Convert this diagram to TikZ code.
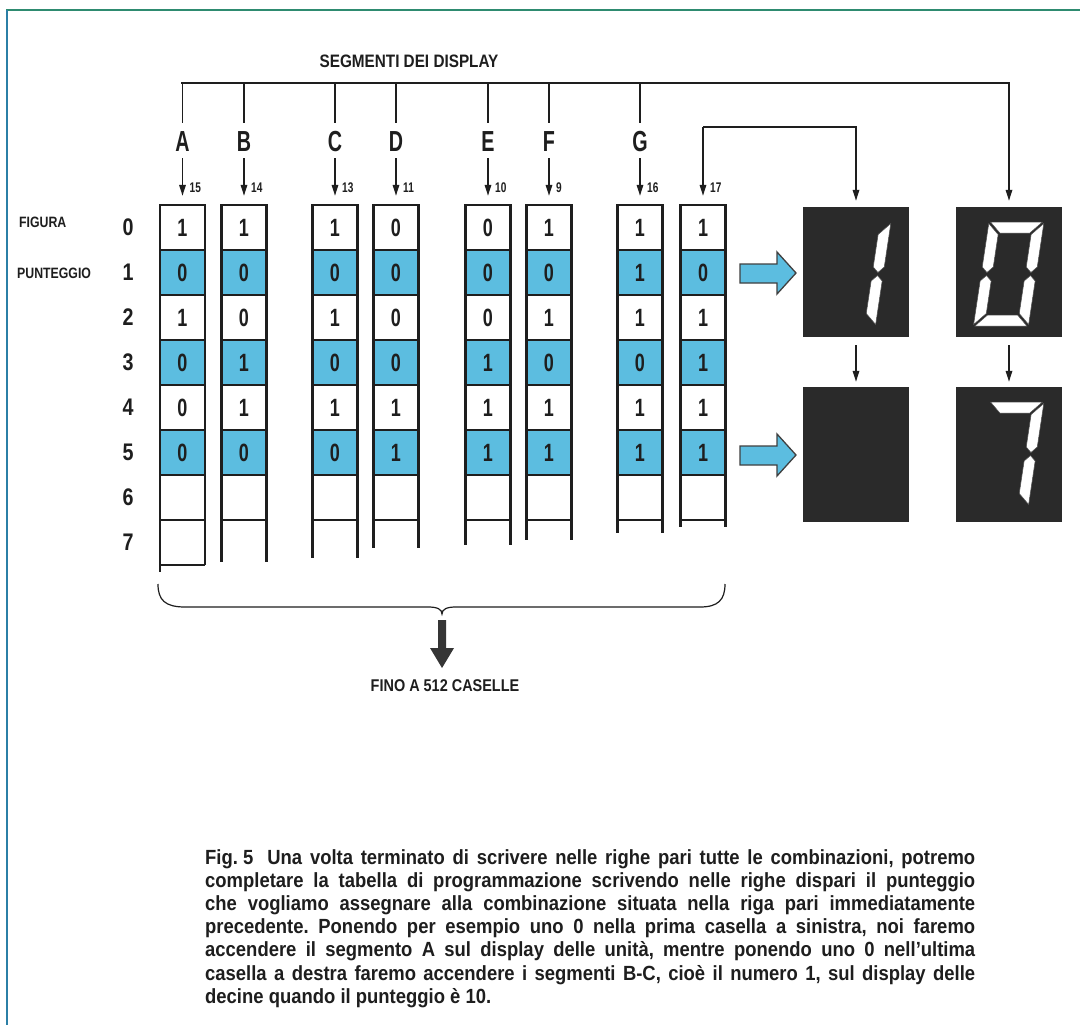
\documentclass[tikz,border=0pt]{standalone}
\usepackage{fontspec}
\setmainfont{Liberation Sans}
\newfontfamily\fcell[FakeStretch=0.72]{Liberation Sans}
\newfontfamily\flet[FakeStretch=0.68]{Liberation Sans}
\newfontfamily\flab[FakeStretch=0.82]{Liberation Sans}
\newfontfamily\fttl[FakeStretch=0.85]{Liberation Sans}
\newfontfamily\fcap[FakeStretch=0.9]{Liberation Sans}
\usetikzlibrary{arrows.meta}
\definecolor{cellblue}{HTML}{5CBDE0}
\definecolor{dispbg}{HTML}{2A2A2A}
\definecolor{framegreen}{HTML}{2E8B70}
\definecolor{frameblue}{HTML}{2B7FA6}
\definecolor{ink}{HTML}{1E1E1E}
\newcommand\sgA{\filldraw[seg] (1.5,0) -- (53.5,0) -- (42.5,11) -- (12.5,11) -- cycle;}
\newcommand\sgB{\filldraw[seg] (55,1.5) -- (55,45) -- (49.5,50.5) -- (44,45) -- (44,12.5) -- cycle;}
\newcommand\sgC{\filldraw[seg] (55,102.5) -- (55,59) -- (49.5,53.5) -- (44,59) -- (44,91.5) -- cycle;}
\newcommand\sgD{\filldraw[seg] (1.5,104) -- (53.5,104) -- (42.5,93) -- (12.5,93) -- cycle;}
\newcommand\sgE{\filldraw[seg] (0,102.5) -- (0,59) -- (5.5,53.5) -- (11,59) -- (11,91.5) -- cycle;}
\newcommand\sgF{\filldraw[seg] (0,1.5) -- (0,45) -- (5.5,50.5) -- (11,45) -- (11,12.5) -- cycle;}
\begin{document}
\frenchspacing
\begin{tikzpicture}[x=1pt,y=-1pt,
  cell/.style={draw=ink, line width=2.4pt, minimum width=45pt, minimum height=45pt, inner sep=0pt,
    font=\fcell\bfseries\fontsize{25}{25}\selectfont, text=ink},
  colline/.style={draw=ink, line width=2.4pt},
  letter/.style={inner sep=0pt, font=\flet\bfseries\fontsize{29}{29}\selectfont, text=ink},
  numf/.style={inner sep=0pt, font=\fcell\bfseries\fontsize{14}{14}\selectfont, text=ink},
  rownum/.style={inner sep=0pt, font=\flab\bfseries\fontsize{24}{24}\selectfont, text=ink},
  rowlab/.style={inner sep=0pt, font=\flab\bfseries\fontsize{15}{15}\selectfont, text=ink},
  title/.style={inner sep=0pt, font=\fttl\bfseries\fontsize{18}{18}\selectfont, text=ink},
  fino/.style={inner sep=0pt, font=\fttl\bfseries\fontsize{17}{17}\selectfont, text=ink},
  capline/.style={inner sep=0pt, font=\fcap\bfseries\fontsize{20.5}{23}\selectfont, text=ink},
  vline/.style={draw=ink, line width=1.6pt},
  arr/.style={draw=ink, line width=1.6pt, -{Triangle[width=6.5pt,length=11pt]}},
  disp/.style={fill=dispbg, draw=none, inner sep=0pt, minimum width=106pt},
  seg/.style={fill=white, draw=black!70, line width=0.5pt},
  blockarrow/.style={fill=cellblue, draw=ink!85, line width=1.3pt, line join=miter},
  brace/.style={draw=ink, line width=1.2pt}
]
\useasboundingbox (0,0) rectangle (1080,1025);
\fill[white] (0,0) rectangle (1080,1025);
% frame
\draw[framegreen, line width=2pt] (6,10) -- (1080,10);
\draw[frameblue, line width=2.5pt] (7,10) -- (7,1025);

% title and bus
\node[title] (segtitle) at (409,61) {SEGMENTI DEI DISPLAY};
\coordinate (busl) at (182.5,83);
\coordinate (busr) at (1009,83);
\draw[line width=2.2pt, draw=ink, line cap=rect] (busl) -- (busr);

% cells
\foreach \n/\cx/\num/\bot/\vals in {A/182.5/15/565/{1,0,1,0,0,0}, B/244/14/562/{1,0,0,1,1,0},
    C/335/13/558/{1,0,1,0,1,0}, D/396/11/548/{0,0,0,0,1,1}, E/488/10/545/{0,0,0,1,1,1},
    F/549/9/540/{1,0,1,0,1,1}, G/640/16/533/{1,1,1,0,1,1}, H/703/17/527/{1,0,1,1,1,1}} {
  \draw[colline] (\cx-22.5,518) -- (\cx-22.5,\bot);
  \draw[colline] (\cx+22.5,518) -- (\cx+22.5,\bot);
  \foreach \v [count=\r from 0] in \vals {
    \ifodd\r\relax \def\cf{cellblue}\else\def\cf{white}\fi
    \node[cell, fill=\cf] (c\n\r) at (\cx,227.5+45*\r) {\v};
  }
  \node[cell, fill=white] (c\n6) at (\cx,497.5) {};
  \node[numf, anchor=west] (N\n) at (\cx+7,188) {\num};
}
\draw[colline] (160,565) -- (205,565);
\draw[colline] (160,565) -- (160,572);

% letters and connectors
\foreach \n/\cx in {A/182.5, B/244, C/335, D/396, E/488, F/549, G/640} {
  \node[letter] (L\n) at (\cx,142) {\n};
  \draw[vline, shorten >=9pt] (L\n |- busl) -- (L\n.north);
  \draw[arr, shorten <=6pt, shorten >=8pt] (L\n.south) -- (c\n0.north);
}

% displays
\node[disp, minimum height=130pt] (dT) at (856,272) {};
\node[disp, minimum height=130pt] (dU) at (1009,272) {};
\node[disp, minimum height=135pt] (dT2) at (856,454.5) {};
\node[disp, minimum height=135pt] (dU2) at (1009,454.5) {};

% 17 connector
\coordinate (k17) at (703,127);
\draw[arr, shorten >=8pt] (k17) -- (cH0.north);
\draw[arr, shorten >=6pt] (k17) -- (k17 -| dT.north) -- (dT.north);
\draw[arr, shorten >=6pt] (busr) -- (dU.north);
\draw[arr, shorten <=8pt, shorten >=5pt] (dT.south) -- (dT2.north);
\draw[arr, shorten <=8pt, shorten >=5pt] (dU.south) -- (dU2.north);

% digits
\begin{scope}[shift={(836,222)}, xslant=0.15]
  \sgB \sgC
\end{scope}
\begin{scope}[shift={(989,222)}, xslant=0.15]
  \sgA \sgB \sgC \sgD \sgE \sgF
\end{scope}
\begin{scope}[shift={(989,402)}, xslant=0.15]
  \sgA \sgB \sgC
\end{scope}

% block arrows
\draw[blockarrow] (740,264) -- (777,264) -- (777,252) -- (796,273) -- (777,294) -- (777,283) -- (740,283) -- cycle;
\draw[blockarrow] (740,446) -- (777,446) -- (777,434) -- (796,455) -- (777,476) -- (777,465) -- (740,465) -- cycle;

% row labels
\node[rowlab, anchor=west] (figura) at (19,222) {FIGURA};
\node[rowlab, anchor=west] (punteggio) at (17,273) {PUNTEGGIO};
\foreach \r in {0,...,7} {
  \node[rownum] (R\r) at (128,227+45*\r) {\r};
}

% brace
\draw[brace] (158,584) .. controls (158,600) and (165,607) .. (185,607) -- (428,607)
  .. controls (437,607) and (442,609) .. (442,614)
  .. controls (442,609) and (447,607) .. (456,607) -- (700,607)
  .. controls (718,607) and (725,600) .. (725,584);
\fill[ink!90] (438,620) -- (446,620) -- (446,648) -- (454,648) -- (442,668) -- (430,648) -- (438,648) -- cycle;
\node[fino] (fino) at (445,686) {FINO A 512 CASELLE};

% caption
\node[capline, anchor=base west] (cap1) at (205,864) {\makebox[770pt][s]{\mbox{Fig. 5}\hspace{14pt}Una volta terminato di scrivere nelle righe pari tutte le combinazioni, potremo}};
\node[capline, anchor=base west] (cap2) at (205,887.2) {\makebox[770pt][s]{completare la tabella di programmazione scrivendo nelle righe dispari il punteggio}};
\node[capline, anchor=base west] (cap3) at (205,910.4) {\makebox[770pt][s]{che vogliamo assegnare alla combinazione situata nella riga pari immediatamente}};
\node[capline, anchor=base west] (cap4) at (205,933.6) {\makebox[770pt][s]{precedente. Ponendo per esempio uno 0 nella prima casella a sinistra, noi faremo}};
\node[capline, anchor=base west] (cap5) at (205,956.8) {\makebox[770pt][s]{accendere il segmento A sul display delle unità, mentre ponendo uno 0 nell’ultima}};
\node[capline, anchor=base west] (cap6) at (205,980) {\makebox[770pt][s]{casella a destra faremo accendere i segmenti B-C, cioè il numero 1, sul display delle}};
\node[capline, anchor=base west] (cap7) at (205,1003.2) {decine quando il punteggio è 10.};
\end{tikzpicture}
\end{document}
